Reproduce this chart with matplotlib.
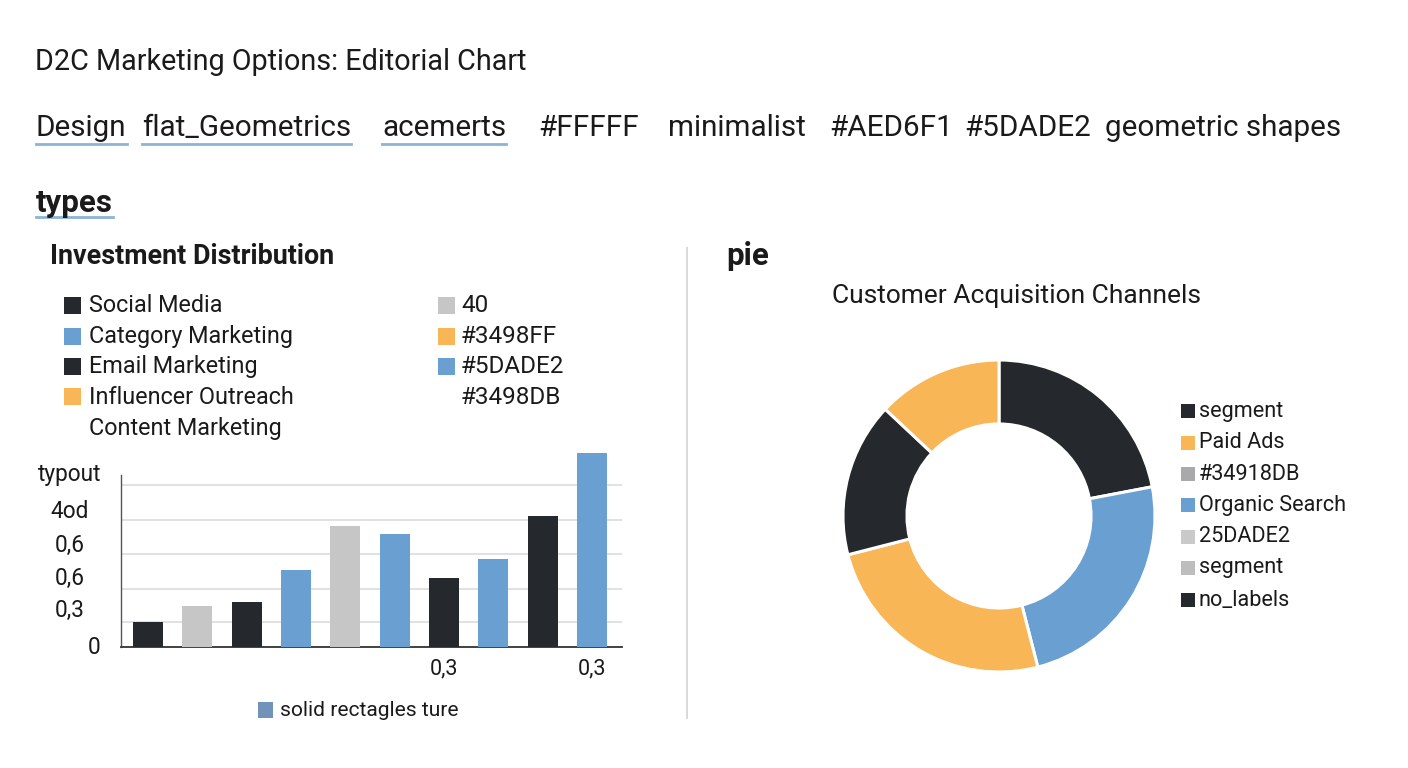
import matplotlib
matplotlib.use("Agg")
import matplotlib.pyplot as plt
from matplotlib.patches import Rectangle
from matplotlib.lines import Line2D
from matplotlib.transforms import blended_transform_factory

plt.rcParams['font.family'] = ['Roboto', 'DejaVu Sans']

W, H = 1408, 768
DARK = '#25282C'
BLUE = '#6A9FD1'
GRAY = '#C6C6C6'
ORANGE = '#F8B656'
UL = '#8DB3D6'
TXT = '#1A1A1A'

# ---------------- data ----------------
title = "D2C Marketing Options: Editorial Chart"
tag_words = ["Design", "flat_Geometrics", "acemerts", "#FFFFF", "minimalist",
             "#AED6F1", "#5DADE2", "geometric shapes"]
tag_underlined = [True, True, True, False, False, False, False, False]
section_left = "types"
bar_title = "Investment Distribution"
legend_left_labels = ["Social Media", "Category Marketing", "Email Marketing",
                      "Influencer Outreach", "Content Marketing"]
legend_left_colors = [DARK, BLUE, DARK, ORANGE, None]
legend_right_labels = ["40", "#3498FF", "#5DADE2", "#3498DB"]
legend_right_colors = [GRAY, ORANGE, BLUE, None]
bar_values = [0.72, 1.20, 1.30, 2.24, 3.51, 3.28, 2.01, 2.56, 3.82, 5.63]
bar_colors = [DARK, GRAY, DARK, BLUE, GRAY, BLUE, DARK, BLUE, DARK, BLUE]
ytick_values = [0, 1.05, 2.0, 2.95, 3.95, 5.0]
ytick_labels = ["0", "0,3", "0,6", "0,6", "4od", "typout"]
grid_values = [0.72, 1.7, 2.7, 3.7, 4.72]
xtick_index = [6, 9]
xtick_labels = ["0,3", "0,3"]
bar_note = "solid rectagles ture"
pie_section = "pie"
pie_title = "Customer Acquisition Channels"
pie_values = [22, 24, 25, 16, 13]
pie_colors = [DARK, BLUE, ORANGE, DARK, ORANGE]
pie_legend_labels = ["segment", "Paid Ads", "#34918DB", "Organic Search",
                     "25DADE2", "segment", "no_labels"]
pie_legend_colors = [DARK, ORANGE, '#A8A9AB', BLUE, '#C9C9C9', '#BDBDBD', DARK]


def fx(x):
    return x / W


def fy(y):
    return 1 - y / H


fig = plt.figure(figsize=(W / 100, H / 100), dpi=100, facecolor='white')

# ---------------- header ----------------
fig.text(fx(35), fy(62), title, fontsize=20.7, color=TXT, va='center', ha='left')
tag_x = [36, 142, 382, 538, 668, 829, 964, 1105]
tag_texts = []
for x, w in zip(tag_x, tag_words):
    t = fig.text(fx(x), fy(128), w, fontsize=21.3, color=TXT, va='center', ha='left')
    tag_texts.append(t)
types_t = fig.text(fx(36), fy(203), section_left, fontsize=22.5, fontweight='bold',
                   color=TXT, va='center', ha='left')

# ---------------- bar chart block ----------------
fig.text(fx(50), fy(256), bar_title, fontsize=19.4, fontweight='bold', color=TXT,
         va='center', ha='left')

row_y = [306, 337, 367, 397, 428]
for y, lab, col in zip(row_y, legend_left_labels, legend_left_colors):
    if col is not None:
        fig.patches.append(Rectangle((fx(64), fy(y + 8)), 17 / W, 17 / H,
                                     transform=fig.transFigure, facecolor=col,
                                     edgecolor='none'))
    fig.text(fx(89), fy(y), lab, fontsize=16.8, color=TXT, va='center', ha='left')
for y, lab, col in zip(row_y, legend_right_labels, legend_right_colors):
    if col is not None:
        fig.patches.append(Rectangle((fx(438), fy(y + 8)), 17 / W, 17 / H,
                                     transform=fig.transFigure, facecolor=col,
                                     edgecolor='none'))
    fig.text(fx(461), fy(y), lab, fontsize=17.5, color=TXT, va='center', ha='left')

ax = fig.add_axes([fx(121), fy(647), (622 - 121) / W, (647 - 475) / H])
xs = list(range(len(bar_values)))
ax.bar(xs, bar_values, width=0.61, color=bar_colors, zorder=3, clip_on=False)
for g in grid_values:
    ax.axhline(g, color='#DCDCDC', linewidth=1.2, zorder=1)
ax.set_xlim(-0.55, 9.61)
ax.set_ylim(0, 5.0)
ax.set_yticks(ytick_values)
ax.set_yticklabels([])
ytr = blended_transform_factory(fig.transFigure, ax.transData)
for v, lab in zip(ytick_values, ytick_labels):
    if lab == "0":
        ax.text(fx(100), v, lab, transform=ytr, ha='right', va='center',
                fontsize=16.3, color=TXT)
    else:
        ax.text(fx(70), v, lab, transform=ytr, ha='center', va='center',
                fontsize=16.3, color=TXT)
ax.set_xticks([xs[i] for i in xtick_index])
ax.set_xticklabels(xtick_labels, fontsize=15.5, color=TXT)
ax.tick_params(axis='y', length=0)
ax.tick_params(axis='x', length=0, pad=8)
for s in ['top', 'right']:
    ax.spines[s].set_visible(False)
ax.spines['left'].set_color('#555555')
ax.spines['left'].set_linewidth(1.0)
ax.spines['bottom'].set_color('#333333')
ax.spines['bottom'].set_linewidth(1.3)
ax.set_facecolor('none')

fig.patches.append(Rectangle((fx(258), fy(718)), 15 / W, 16 / H,
                             transform=fig.transFigure, facecolor='#7193B9',
                             edgecolor='none'))
fig.text(fx(280), fy(711), bar_note, fontsize=15.1, color=TXT, va='center', ha='left')

# divider
fig.add_artist(Line2D([fx(687), fx(687)], [fy(248), fy(718)], color='#DADADA',
                      linewidth=1.5, transform=fig.transFigure))

# ---------------- pie block ----------------
fig.text(fx(726), fy(256), pie_section, fontsize=22.5, fontweight='bold', color=TXT,
         va='center', ha='left')
fig.text(fx(832), fy(296), pie_title, fontsize=19, color=TXT, va='center', ha='left')

cx, cy, r = 999, 516, 156
pax = fig.add_axes([fx(cx - r), fy(cy + r), 2 * r / W, 2 * r / H])
pax.pie(pie_values, colors=pie_colors, startangle=90, counterclock=False,
        wedgeprops=dict(width=0.41, edgecolor='white', linewidth=2.2))
pax.set_xlim(-1, 1)
pax.set_ylim(-1, 1)
pax.set_aspect('equal')
pax.axis('off')

prow = [411, 443, 474, 505, 537, 568, 600]
for y, lab, col in zip(prow, pie_legend_labels, pie_legend_colors):
    fig.patches.append(Rectangle((fx(1181), fy(y + 7)), 14 / W, 14 / H,
                                 transform=fig.transFigure, facecolor=col,
                                 edgecolor='none'))
    fig.text(fx(1199), fy(y), lab, fontsize=15.6, color=TXT, va='center', ha='left')

# underlines under tags
fig.canvas.draw()
rend = fig.canvas.get_renderer()
ul_items = [(t, 144) for t, u in zip(tag_texts, tag_underlined) if u] + [(types_t, 217)]
for t, y in ul_items:
    bb = t.get_window_extent(rend)
    fig.add_artist(Line2D([bb.x0 / W, bb.x1 / W], [fy(y), fy(y)], color=UL,
                          linewidth=2, transform=fig.transFigure))

fig.savefig("out.png", dpi=100, facecolor='white')
